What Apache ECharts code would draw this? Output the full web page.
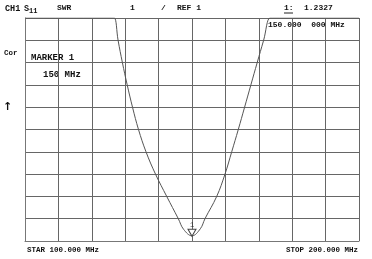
<!DOCTYPE html>
<html>
<head>
<meta charset="utf-8">
<script src="https://cdn.jsdelivr.net/npm/echarts@6/dist/echarts.min.js"></script>
<style>
html,body{margin:0;padding:0;background:#fff;}
#c{width:372px;height:259px;}
</style>
</head>
<body>
<div id="c"></div>
<script>
// Frequency (MHz) and SWR readings of the trace
var freqs = [100, 126.0, 126.74, 127.87, 129.16, 130.60, 132.19, 133.98, 136.23, 139.07, 142.43, 145.90, 147.5, 150.0, 152.5, 153.89, 157.40, 159.88, 161.89, 163.86, 165.75, 167.63, 169.52, 171.44, 173.35, 174.1, 200];
var swr   = [11, 11, 11, 10, 9, 8, 7, 6, 5, 4, 3, 2, 1.52, 1.2327, 1.55, 2, 3, 4, 5, 6, 7, 8, 9, 10, 11, 11, 11];
var markerFreq = 150;
var markerValue = 1.2327;
var xRange = [100, 200];
var yRange = [1, 11];

var chart = echarts.init(document.getElementById('c'), null, {renderer: 'canvas'});
var pts = freqs.map(function (f, i) { return [f, swr[i]]; });
var mono = '"Liberation Mono", "DejaVu Sans Mono", monospace';
function txt(x, y, s, size, extra) {
  return {type: 'text', left: x, top: y, style: {text: s, font: (extra || '') + ' ' + size + 'px ' + mono, fill: '#111'}};
}
chart.setOption({
  animation: false,
  grid: {left: 25, right: 13, top: 18, bottom: 18, show: false},
  xAxis: {
    type: 'value', min: xRange[0], max: xRange[1], interval: 10,
    axisLine: {show: true, lineStyle: {color: '#777', width: 1}},
    axisTick: {show: false}, axisLabel: {show: false},
    splitLine: {show: true, lineStyle: {color: '#666', width: 1}}
  },
  yAxis: {
    type: 'value', min: yRange[0], max: yRange[1], interval: 1,
    axisLine: {show: true, lineStyle: {color: '#777', width: 1}},
    axisTick: {show: false}, axisLabel: {show: false},
    splitLine: {show: true, lineStyle: {color: '#666', width: 1}}
  },
  series: [{
    type: 'line',
    data: pts,
    showSymbol: false,
    smooth: 0.4,
    clip: true,
    lineStyle: {color: '#555', width: 1},
    markPoint: {
      symbol: 'triangle',
      symbolSize: [8, 7],
      symbolRotate: 180,
      symbolOffset: [0, -3],
      itemStyle: {color: '#fff', borderColor: '#444', borderWidth: 1},
      label: {show: true, position: 'top', distance: 0, formatter: '1', fontSize: 7, color: '#333', fontFamily: mono},
      data: [{coord: [markerFreq, markerValue]}]
    }
  }],
  graphic: [
    txt(5, 4, 'CH1', 8.5, 'bold'),
    txt(24, 4, 'S', 8.5, 'bold'),
    txt(29, 8, '11', 7, 'bold'),
    txt(57, 4, 'SWR', 8, 'bold'),
    txt(130, 4, '1', 8, 'bold'),
    txt(161, 4, '/', 8, 'bold'),
    txt(177, 4, 'REF 1', 8, 'bold'),
    txt(284, 4, '1:', 8, 'bold'),
    {type: 'line', shape: {x1: 284, y1: 13, x2: 293, y2: 13}, style: {stroke: '#222', lineWidth: 1}},
    txt(304, 4, '1.2327', 8, 'bold'),
    txt(268, 21, '150.000  000 MHz', 8, 'bold'),
    txt(4, 49, 'Cor', 7.5, 'bold'),
    txt(31, 53, 'MARKER 1', 9, 'bold'),
    txt(43, 70, '150 MHz', 9, 'bold'),
    {type: 'text', left: 3, top: 102, style: {text: '\u2191', font: 'bold 11px "DejaVu Sans"', fill: '#111'}},
    txt(27, 246, 'STAR 100.000 MHz', 7.5, 'bold'),
    {type: 'text', right: 14, top: 246, style: {text: 'STOP 200.000 MHz', font: 'bold 7.5px ' + mono, fill: '#111'}}
  ]
});
</script>
</body>
</html>
